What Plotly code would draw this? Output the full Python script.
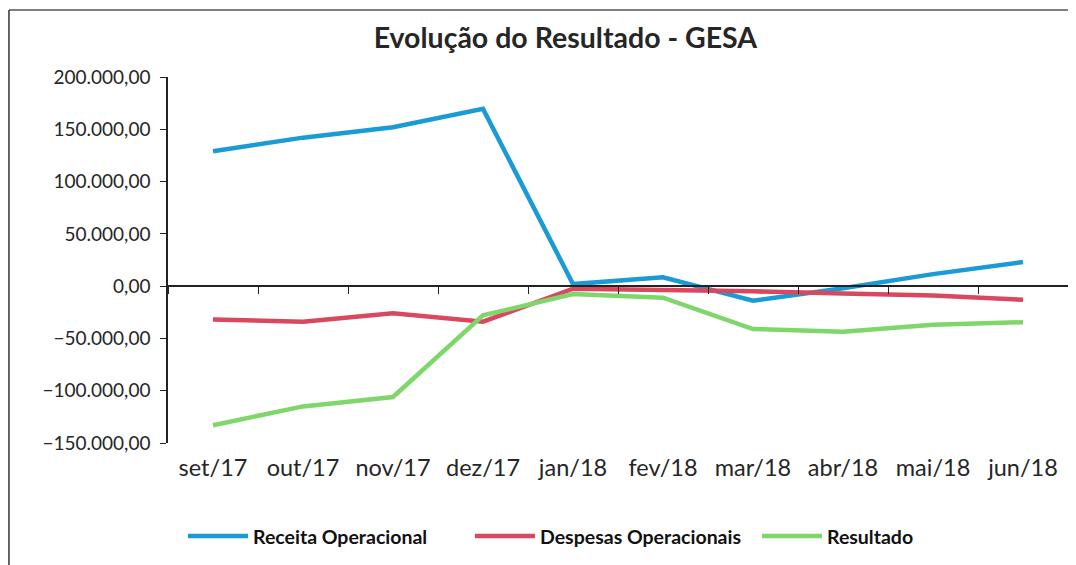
import plotly.graph_objects as go

categories = ["set/17", "out/17", "nov/17", "dez/17", "jan/18", "fev/18", "mar/18", "abr/18", "mai/18", "jun/18"]
receita = [129000, 142000, 152000, 169500, 2000, 8500, -14000, -2000, 11500, 23000]
despesas = [-32000, -34000, -26000, -34000, -2500, -3500, -5000, -7000, -9000, -13000]
resultado = [-133000, -115000, -106000, -28000, -7500, -11000, -41000, -43500, -37000, -34500]

names = ["Receita Operacional", "Despesas Operacionais", "Resultado"]
colors = ["#1b9bd5", "#d9485e", "#7fd66a"]
series = [receita, despesas, resultado]

y_min, y_max, y_step = -150000, 200000, 50000
FONT = "Lato, 'Open Sans', sans-serif"
n = len(categories)

fig = go.Figure()
for name, vals, col in zip(names, series, colors):
    fig.add_trace(go.Scatter(x=categories, y=vals, name=name, mode="lines",
                             line=dict(color=col, width=4.5)))
# helper trace so the label axis knows the categories
fig.add_trace(go.Scatter(x=categories, y=[None] * n, xaxis="x2",
                         showlegend=False, hoverinfo="skip", mode="lines"))

zero_pos = (0 - y_min) / (y_max - y_min)

fig.update_layout(
    width=1076, height=565,
    margin=dict(l=160, r=16, t=69, b=130, autoexpand=False),
    paper_bgcolor="white", plot_bgcolor="white",
    separators=",.",
    font=dict(family=FONT, color="#262626"),
    title=dict(text="<b>Evolução do Resultado - GESA</b>", x=0.518, xanchor="center",
               y=0.947, yanchor="middle", font=dict(size=28.5, family=FONT, color="#262626")),
    xaxis=dict(type="category", range=[-0.5, n - 0.5], anchor="free", position=zero_pos,
               showline=True, linecolor="#222", linewidth=1.5, ticks="outside",
               tickson="boundaries", ticklen=7, tickcolor="#222", showticklabels=False,
               showgrid=False, zeroline=False, automargin=False),
    xaxis2=dict(overlaying="x", matches="x", anchor="y", side="bottom", showline=False,
                ticks="", showgrid=False, automargin=False, ticklabelstandoff=8,
                tickfont=dict(size=23.5, family=FONT, color="#262626")),
    yaxis=dict(range=[y_min, y_max], dtick=y_step, tick0=0, tickformat=",.2f",
               showline=True, linecolor="#222", linewidth=1.5, ticks="outside",
               ticklen=6, tickcolor="#222", showgrid=False, zeroline=False,
               ticklabelstandoff=6, automargin=False,
               tickfont=dict(size=19, family=FONT, color="#262626")),
    legend=dict(orientation="h", x=0.495, xanchor="center", y=-0.255, yanchor="middle",
                font=dict(size=19.5, family=FONT, color="#111", weight="bold"), itemwidth=60,
                entrywidth=212, traceorder="normal"),
    shapes=[dict(type="line", xref="paper", yref="paper", x0=-0.1767, x1=1.05, y0=1.183, y1=1.183,
                 line=dict(color="#555", width=1.5)),
            dict(type="line", xref="paper", yref="paper", x0=-0.1767, x1=-0.1767, y0=1.183, y1=-0.4,
                 line=dict(color="#333", width=1.5))],
)

fig.write_html("out.html")
